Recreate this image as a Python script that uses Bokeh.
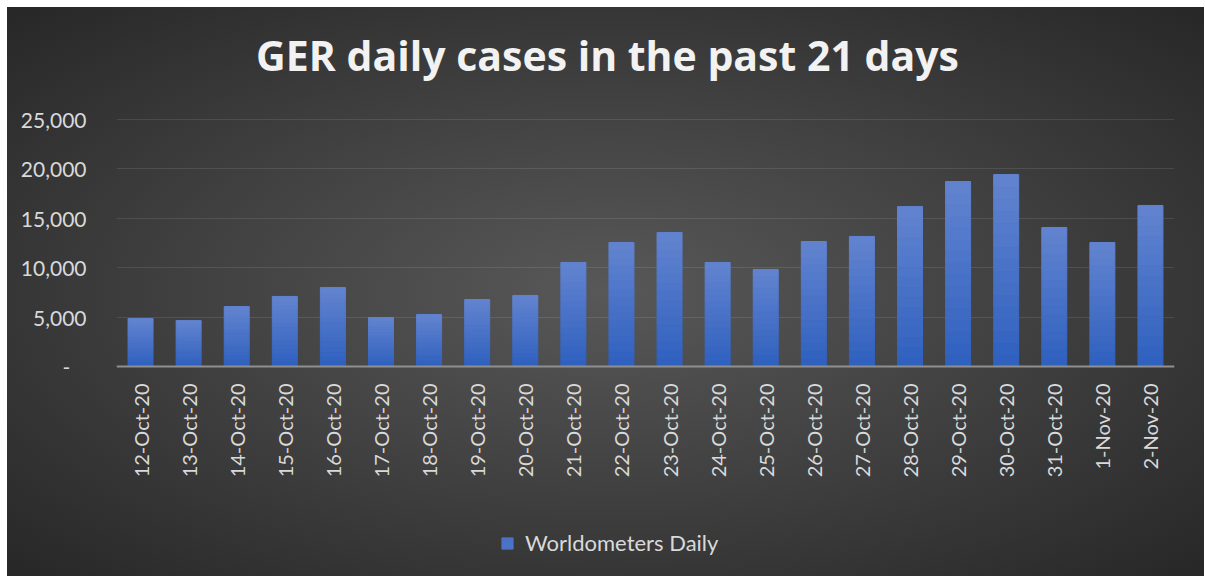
from bokeh.plotting import figure
from bokeh.models import (FactorRange, Range1d, FixedTicker, CustomJSTickFormatter,
                          Label, Legend, LegendItem, ColumnDataSource)
from bokeh.embed import file_html
from bokeh.resources import INLINE
import math

# ---- data ----
dates = ["12-Oct-20", "13-Oct-20", "14-Oct-20", "15-Oct-20", "16-Oct-20", "17-Oct-20",
         "18-Oct-20", "19-Oct-20", "20-Oct-20", "21-Oct-20", "22-Oct-20", "23-Oct-20",
         "24-Oct-20", "25-Oct-20", "26-Oct-20", "27-Oct-20", "28-Oct-20", "29-Oct-20",
         "30-Oct-20", "31-Oct-20", "1-Nov-20", "2-Nov-20"]
daily_cases = [4860, 4650, 6070, 7090, 8000, 4960, 5260, 6780, 7190, 10530, 12550,
               13560, 10530, 9820, 12650, 13160, 16190, 18720, 19430, 14070, 12550, 16300]
y_ticks = [0, 5000, 10000, 15000, 20000, 25000]
title_text = "GER daily cases in the past 21 days"
series_name = "Worldometers Daily"

# ---- layout (pixels) ----
W, H = 1204, 576
F_LEFT, F_RIGHT = 116, 1174          # plot frame horizontal extent
Y0_PX, YTOP_PX = 366, 119            # page y of value 0 and of value 25000
Y_MAX = 25000
per_px = Y_MAX / (Y0_PX - YTOP_PX)
y_start = -(H - Y0_PX) * per_px
y_end = Y_MAX + YTOP_PX * per_px
slot = (F_RIGHT - F_LEFT) / len(dates)

def xdata(px):
    return (px - F_LEFT) / slot

def ydata(py):
    return (Y0_PX - py) * per_px

FONT = "Lato"
TXT = "#d9d9d9"
TOP_RGB = (99, 132, 208)
BOT_RGB = (46, 96, 190)
N_BANDS = 16

p = figure(width=W, height=H, output_backend="svg", toolbar_location=None,
           x_range=FactorRange(*dates, range_padding=0, factor_padding=0),
           y_range=Range1d(y_start, y_end),
           min_border_left=F_LEFT, min_border_right=W - F_RIGHT,
           min_border_top=0, min_border_bottom=0)
p.title = None
p.border_fill_color = None
p.background_fill_color = None
p.outline_line_color = None
p.styles = {
    "background-color": "white",
    "background-image": "radial-gradient(ellipse at 50% 50%, #585858 0%, #404040 50%, #272727 100%)",
    "background-position": "7px 7px",
    "background-size": "calc(100% - 7px) calc(100% - 7px)",
    "background-repeat": "no-repeat",
}

# bars with a vertical gradient (bands from bottom to top of each bar)
xs, bottoms, tops, colors = [], [], [], []
for d, v in zip(dates, daily_cases):
    for k in range(N_BANDS):
        t = (k + 0.5) / N_BANDS
        c = tuple(int(round(BOT_RGB[i] + (TOP_RGB[i] - BOT_RGB[i]) * t)) for i in range(3))
        xs.append(d)
        bottoms.append(v * k / N_BANDS)
        tops.append(v * (k + 1) / N_BANDS)
        colors.append("#%02x%02x%02x" % c)
src = ColumnDataSource(dict(x=xs, bottom=bottoms, top=tops, color=colors))
bars = p.vbar(x="x", bottom="bottom", top="top", width=0.52, source=src,
              fill_color="color", line_color="color", line_width=1)

# x axis drawn at value 0
p.xaxis.fixed_location = 0
p.xaxis.axis_line_color = "#8f8f8f"
p.xaxis.axis_line_width = 2
p.xaxis.major_tick_line_color = None
p.xaxis.minor_tick_line_color = None
p.xaxis.major_label_orientation = math.pi / 2
p.xaxis.major_label_standoff = 11
p.xaxis.major_label_text_color = TXT
p.xaxis.major_label_text_font = FONT
p.xaxis.major_label_text_font_size = "20px"

p.yaxis.axis_line_color = None
p.yaxis.major_tick_line_color = None
p.yaxis.minor_tick_line_color = None
p.yaxis.ticker = FixedTicker(ticks=y_ticks)
p.yaxis.formatter = CustomJSTickFormatter(code="""
    if (tick == 0) { return "-\u00a0\u00a0\u00a0"; }
    return tick.toLocaleString("en-US");
""")
p.yaxis.major_label_standoff = 24
p.yaxis.major_label_text_color = TXT
p.yaxis.major_label_text_font = FONT
p.yaxis.major_label_text_font_size = "21px"

p.xgrid.grid_line_color = None
p.ygrid.grid_line_color = "white"
p.ygrid.grid_line_alpha = 0.1
p.ygrid.grid_line_width = 1

# title
p.add_layout(Label(x=xdata(607), y=ydata(54), text=title_text,
                   text_align="center", text_baseline="middle",
                   text_font="Open Sans", text_font_style="bold", text_font_size="41px",
                   text_color="#f2f2f2"))

# legend
leg = Legend(items=[LegendItem(label=series_name, renderers=[bars], index=8)],
             location=(500 - F_LEFT, H - 556), orientation="horizontal",
             glyph_width=14, glyph_height=14, label_standoff=11,
             padding=0, margin=0, border_line_color=None,
             background_fill_color=None, background_fill_alpha=0,
             label_text_color=TXT, label_text_font=FONT, label_text_font_size="22px",
             label_height=22)
p.add_layout(leg, "center")

open("out.html", "w").write(file_html(p, INLINE))
